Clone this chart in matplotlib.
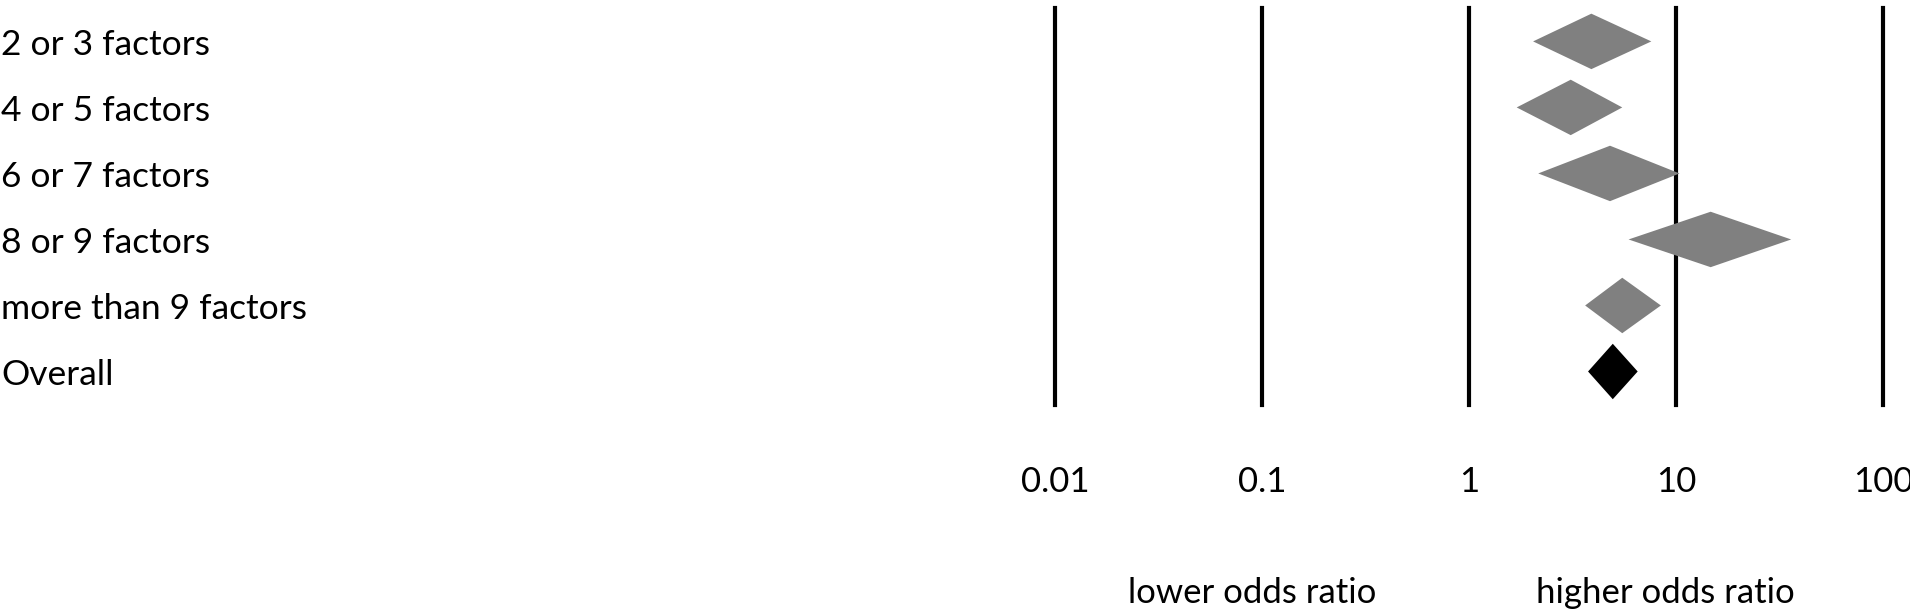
import matplotlib
matplotlib.use('Agg')
import matplotlib.pyplot as plt
import matplotlib.transforms as mtransforms

plt.rcParams['font.family'] = ['Lato', 'DejaVu Sans']

groups = ['2 or 3 factors', '4 or 5 factors', '6 or 7 factors',
          '8 or 9 factors', 'more than 9 factors', 'Overall']
odds = [3.9, 3.1, 4.8, 14.7, 5.5, 4.95]
ci_low = [2.04, 1.70, 2.16, 5.9, 3.64, 3.76]
ci_high = [7.6, 5.5, 10.4, 36.0, 8.45, 6.53]
colors = ['#808080'] * 5 + ['#000000']

ticks = [0.01, 0.1, 1, 10, 100]
tick_labels = ['0.01', '0.1', '1', '10', '100']

W, H = 1910, 613
fig = plt.figure(figsize=(W / 100, H / 100), dpi=100)
ax = fig.add_axes([1055 / W, 1 - 404.5 / H, (1883 - 1055) / W, (404.5 - 8.4) / H])
ax.set_xscale('log')
ax.set_xlim(0.01, 100)
ax.set_ylim(5.5, -0.5)

for t in ticks:
    ax.axvline(t, color='black', lw=3, clip_on=False, zorder=1)

h = 0.42  # half height of diamond in row units
for i in range(len(groups)):
    ax.fill([ci_low[i], odds[i], ci_high[i], odds[i]],
            [i, i - h, i, i + h], color=colors[i], lw=0, zorder=2)

# row labels sit a touch lower than the diamond centres
trans = mtransforms.blended_transform_factory(fig.transFigure, ax.transData)
for i, g in enumerate(groups):
    ax.text(0.0005, i + 0.06, g, transform=trans, ha='left', va='center',
            fontsize=25.5)

ax.set_xticks(ticks)
ax.set_xticklabels(tick_labels, fontsize=25)
ax.minorticks_off()
ax.tick_params(axis='x', length=0, pad=44)
ax.set_yticks([])
for s in ax.spines.values():
    s.set_visible(False)

trans2 = mtransforms.blended_transform_factory(ax.transData, fig.transFigure)
ax.text(10 ** -1.047, 1 - 593 / H, 'lower odds ratio', transform=trans2,
        ha='center', va='center', fontsize=25)
ax.text(10 ** 0.947, 1 - 593 / H, 'higher odds ratio', transform=trans2,
        ha='center', va='center', fontsize=25)

plt.savefig('out.png', dpi=100)
